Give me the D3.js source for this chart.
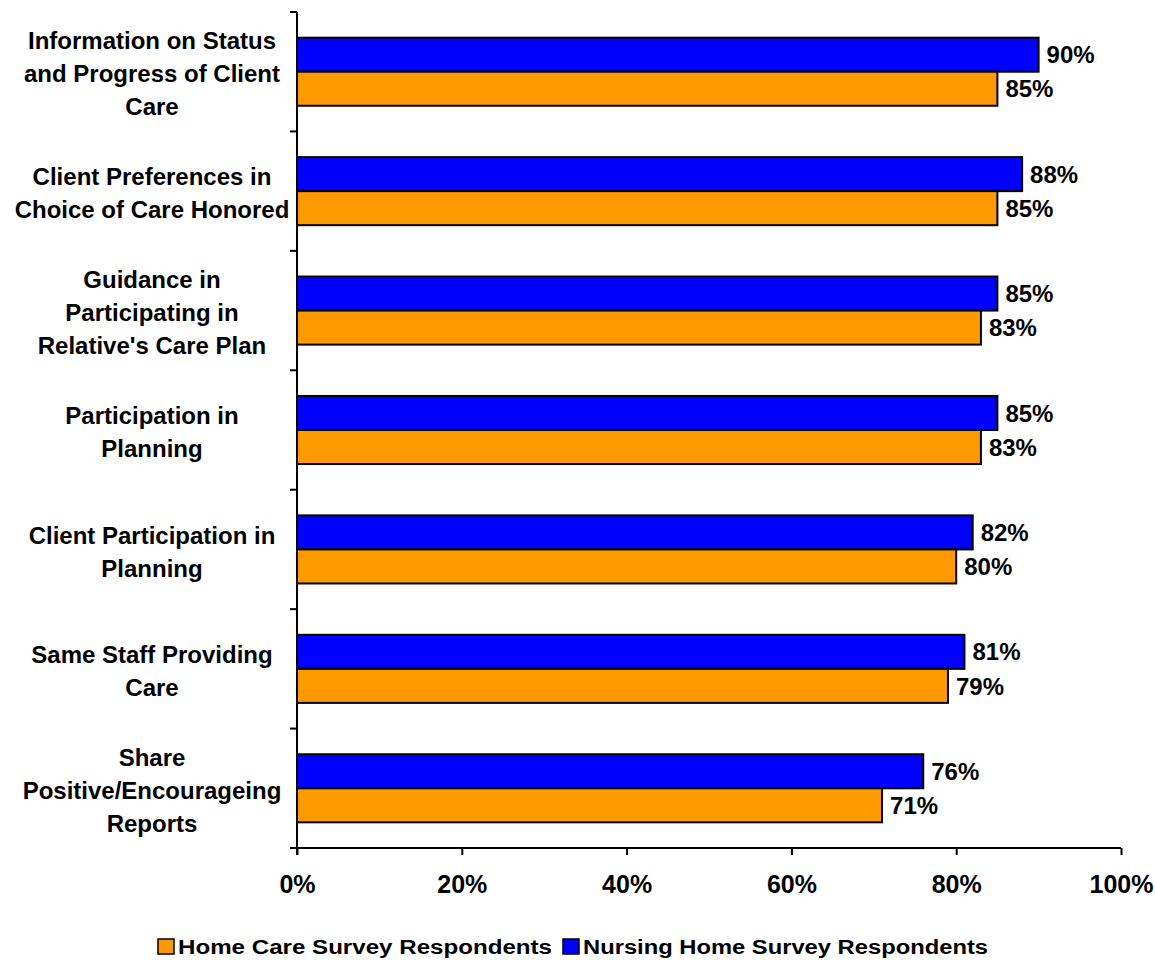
<!DOCTYPE html>
<html><head><meta charset="utf-8">
<script src="https://cdn.jsdelivr.net/npm/d3@7"></script>
<style>body{margin:0;background:#fff;} text{font-family:"Liberation Sans",Arial,sans-serif;font-weight:bold;fill:#000;}</style>
</head><body>
<svg id="c" width="1155" height="960"></svg>
<script>
const categories = [
  ["Information on Status","and Progress of Client","Care"],
  ["Client Preferences in","Choice of Care Honored"],
  ["Guidance in","Participating in","Relative's Care Plan"],
  ["Participation in","Planning"],
  ["Client Participation in","Planning"],
  ["Same Staff Providing","Care"],
  ["Share","Positive/Encourageing","Reports"]
];
const nursingHome = [90, 88, 85, 85, 82, 81, 76];
const homeCare = [85, 85, 83, 83, 80, 79, 71];
const xTicks = [0, 20, 40, 60, 80, 100];
const seriesNames = ["Home Care Survey Respondents", "Nursing Home Survey Respondents"];
const colors = {home: "#FF9900", nursing: "#0000FF"};

const svg = d3.select("#c");
const x = d3.scaleLinear().domain([0, 100]).range([297, 1121]);
const y = d3.scaleBand().domain(d3.range(categories.length)).range([12, 848]).paddingInner(0.43).paddingOuter(0.215);
const sub = d3.scaleBand().domain(["nursing", "home"]).range([0, y.bandwidth()]);

const g = svg.append("g");
categories.forEach((c, i) => {
  const rows = [["nursing", nursingHome[i]], ["home", homeCare[i]]];
  rows.forEach(([k, v]) => {
    g.append("rect").attr("x", x(0)).attr("y", y(i) + sub(k))
      .attr("width", x(v) - x(0)).attr("height", sub.bandwidth())
      .attr("fill", colors[k]).attr("stroke", "#000").attr("stroke-width", 2);
    g.append("text").attr("x", x(v) + 8).attr("y", y(i) + sub(k) + sub.bandwidth() / 2)
      .attr("dy", "0.36em").attr("font-size", 24).text(v + "%");
  });
  const cy = y(i) + y.bandwidth() / 2 + 2;
  const lh = 33;
  c.forEach((line, j) => {
    g.append("text").attr("x", 152).attr("y", cy + (j - (c.length - 1) / 2) * lh)
      .attr("dy", "0.36em").attr("text-anchor", "middle").attr("font-size", 24).text(line);
  });
});

// y axis with ticks at band boundaries
const yEdges = d3.range(categories.length + 1).map(i => 12 + i * (836 / categories.length));
svg.append("line").attr("x1", 297).attr("x2", 297).attr("y1", 12).attr("y2", 855).attr("stroke", "#000").attr("stroke-width", 2);
yEdges.forEach(v => svg.append("line").attr("x1", 290).attr("x2", 297).attr("y1", v).attr("y2", v).attr("stroke", "#000").attr("stroke-width", 2));

// x axis
const xa = svg.append("g").attr("transform", "translate(0,848)")
  .call(d3.axisBottom(x).tickValues(xTicks).tickFormat(d => d + "%").tickSize(7).tickPadding(20));
xa.select(".domain").attr("d", `M${290},0H${1121}`).attr("stroke-width", 2);
xa.selectAll(".tick line").attr("stroke-width", 2);
xa.selectAll("text").attr("font-size", 25).style("font-family", '"Liberation Sans",Arial,sans-serif').style("font-weight", "bold");

// legend
const leg = svg.append("g").attr("transform", "translate(0,954)");
const items = [[seriesNames[0], colors.home, 158, 374], [seriesNames[1], colors.nursing, 563, 405]];
items.forEach(([name, col, lx, len]) => {
  leg.append("rect").attr("x", lx).attr("y", -15).attr("width", 16).attr("height", 15)
    .attr("fill", col).attr("stroke", "#000").attr("stroke-width", 1.5);
  leg.append("text").attr("x", lx + 20).attr("y", 0).attr("font-size", 20)
    .attr("textLength", len).attr("lengthAdjust", "spacingAndGlyphs").text(name);
});
</script>
</body></html>
